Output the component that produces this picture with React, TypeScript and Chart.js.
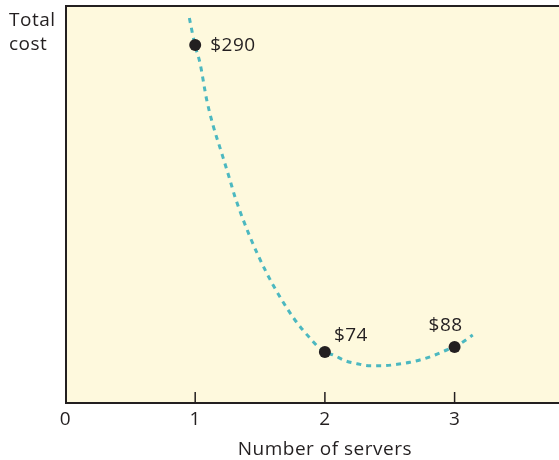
import React, { useEffect, useRef } from "react";
import { Chart, registerables } from "chart.js";

Chart.register(...registerables);

// Data (schematic chart, y axis unlabeled)
const servers = [1, 2, 3];
const costLabels = ["$290", "$74", "$88"];
const pointHeights = [358, 51, 56]; // relative height on the unlabeled cost axis
const curveX = [0.955, 0.998, 1.037, 1.089, 1.137, 1.204, 1.268, 1.307, 1.423, 1.551, 1.654, 1.764, 1.898, 1.995, 2.065, 2.155, 2.258, 2.348, 2.45, 2.558, 2.656, 2.759, 2.849, 2.939, 2.99, 3.067, 3.14];
const curveY = [385, 358, 340, 303, 278, 250, 223, 206, 166, 130, 106, 84, 63, 51, 48, 42.3, 39, 37.3, 37.3, 38.7, 40.7, 44, 48, 53, 55.7, 61.3, 68];
const xTicks = [0, 1, 2, 3];
const xTitle = "Number of servers";
const xTitleCenter = 2; // title is centred under this tick value
const yTitleLines = ["Total", "cost"];

const X_MAX = 3.805;
const Y_MAX = 397;

const FONT = "'Open Sans', sans-serif";
const FSIZE = 19;
const TEXT = "#231f20";
const labelOffsets = [
  { dx: 15, dy: 1, align: "left" as CanvasTextAlign },
  { dx: 9, dy: -16, align: "left" as CanvasTextAlign },
  { dx: -9, dy: -21, align: "center" as CanvasTextAlign },
];

const decorPlugin = {
  id: "decor",
  beforeDraw(chart: any) {
    const { ctx, chartArea } = chart;
    (ctx as any).letterSpacing = "0.5px";
    ctx.save();
    ctx.fillStyle = "#fef9dd";
    ctx.fillRect(chartArea.left, chartArea.top, chartArea.right - chartArea.left, chartArea.bottom - chartArea.top);
    ctx.restore();
  },
  afterDraw(chart: any) {
    const { ctx, chartArea, scales } = chart;
    const xs = scales.x;
    ctx.save();
    // top border
    ctx.strokeStyle = "#231f20";
    ctx.lineWidth = 2;
    ctx.beginPath();
    ctx.moveTo(chartArea.left, chartArea.top);
    ctx.lineTo(chartArea.right, chartArea.top);
    ctx.stroke();
    // inward ticks
    ctx.lineWidth = 1.5;
    xTicks.forEach((v) => {
      if (v === 0) return;
      const px = xs.getPixelForValue(v);
      ctx.beginPath();
      ctx.moveTo(px, chartArea.bottom);
      ctx.lineTo(px, chartArea.bottom - 11);
      ctx.stroke();
    });
    ctx.fillStyle = TEXT;
    ctx.font = `${FSIZE}px ${FONT}`;
    // x title
    ctx.textAlign = "center";
    ctx.textBaseline = "alphabetic";
    ctx.fillText(xTitle, xs.getPixelForValue(xTitleCenter), chartArea.bottom + 52);
    // y title
    ctx.textAlign = "left";
    ctx.fillText(yTitleLines[0], 9, 26);
    ctx.fillText(yTitleLines[1], 9, 49.5);
    // point labels
    const meta = chart.getDatasetMeta(1);
    ctx.textBaseline = "middle";
    meta.data.forEach((el: any, i: number) => {
      const o = labelOffsets[i];
      ctx.textAlign = o.align;
      ctx.fillText(costLabels[i], el.x + o.dx, el.y + o.dy);
    });
    ctx.restore();
  },
};

export default function App() {
  const ref = useRef<HTMLCanvasElement>(null);
  useEffect(() => {
    document.body.style.margin = "0";
    const chart = new Chart(ref.current!, {
      type: "scatter",
      data: {
        datasets: [
          {
            data: curveX.map((x, i) => ({ x, y: curveY[i] })),
            showLine: true,
            borderColor: "#4cb8c0",
            borderWidth: 3,
            borderDash: [5, 5],
            pointRadius: 0,
            cubicInterpolationMode: "monotone",
            fill: false,
            order: 1,
          },
          {
            data: servers.map((x, i) => ({ x, y: pointHeights[i] })),
            showLine: false,
            pointRadius: 6,
            pointBackgroundColor: "#231f20",
            pointBorderColor: "#231f20",
            pointBorderWidth: 0,
            order: 0,
          },
        ],
      },
      options: {
        responsive: false,
        animation: false,
        layout: { autoPadding: false, padding: { top: 6, right: 0, left: 0, bottom: 0 } },
        plugins: { legend: { display: false }, tooltip: { enabled: false } },
        scales: {
          x: {
            type: "linear",
            min: 0,
            max: X_MAX,
            afterBuildTicks: (s: any) => {
              s.ticks = xTicks.map((v) => ({ value: v }));
            },
            afterFit: (s: any) => {
              s.height = 57;
            },
            grid: { display: false, drawTicks: false },
            border: { display: true, color: "#231f20", width: 2 },
            ticks: { color: TEXT, font: { family: FONT, size: FSIZE }, padding: 5, maxRotation: 0 },
            title: { display: false },
          },
          y: {
            type: "linear",
            min: 0,
            max: Y_MAX,
            afterFit: (s: any) => {
              s.width = 65.5;
            },
            grid: { display: false, drawTicks: false },
            border: { display: true, color: "#231f20", width: 2 },
            ticks: { display: false },
          },
        },
      },
      plugins: [decorPlugin],
    } as any);
    return () => chart.destroy();
  }, []);
  return (
    <div style={{ position: "absolute", left: 0, top: 0, width: 559, height: 460, background: "#fff" }}>
      <canvas ref={ref} width={559} height={460} />
    </div>
  );
}
